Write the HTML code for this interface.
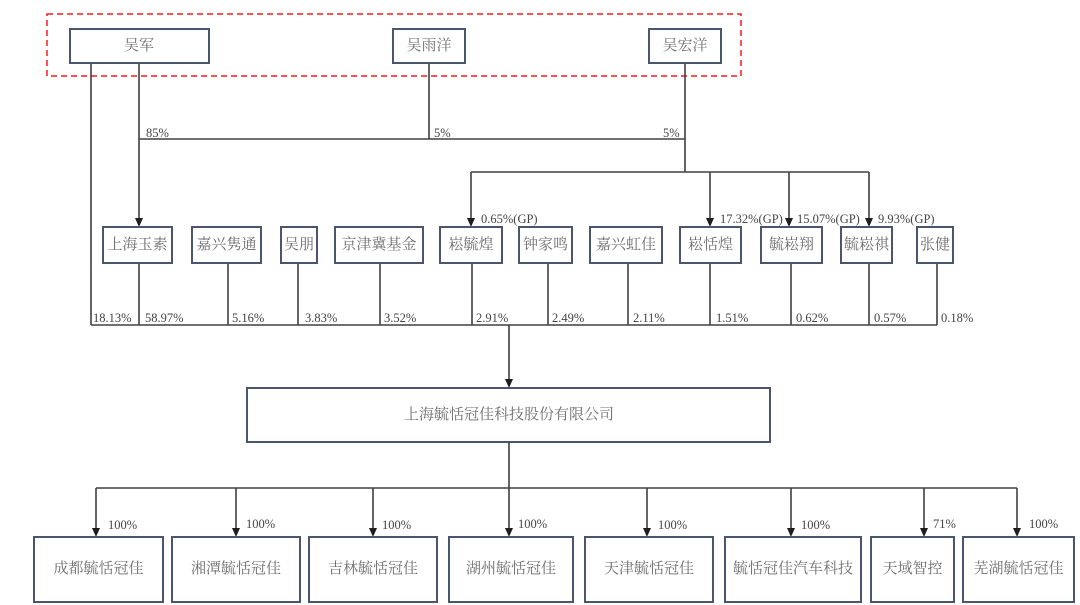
<!DOCTYPE html>
<html>
<head>
<meta charset="utf-8">
<style>
html,body{margin:0;padding:0;background:#fff;}
svg{display:block;}
.box{fill:#fff;stroke:#4a5670;stroke-width:2;}
.ln{stroke:#404040;stroke-width:1.6;fill:none;}
.ah{fill:#1e1e1e;}
.cn{font-family:"Liberation Serif","Noto Serif CJK SC",serif;font-size:15px;fill:#6e6e6e;text-anchor:middle;dominant-baseline:central;}
.pc{font-family:"Liberation Serif",serif;font-size:12.5px;fill:#444;}
</style>
</head>
<body>
<svg width="1080" height="605" viewBox="0 0 1080 605" xmlns="http://www.w3.org/2000/svg">

<!-- dashed red group -->
<rect x="47" y="14" width="694" height="62" fill="none" stroke="#ff1a1a" stroke-width="1.5" stroke-dasharray="6,4"/>

<!-- connectors top -->
<line class="ln" x1="91" y1="63" x2="91" y2="325"/>
<line class="ln" x1="139" y1="63" x2="139" y2="220"/>
<polygon class="ah" points="135,218 143,218 139,227"/>
<line class="ln" x1="139" y1="139" x2="685" y2="139"/>
<line class="ln" x1="429" y1="63" x2="429" y2="139"/>
<line class="ln" x1="685" y1="63" x2="685" y2="172"/>
<line class="ln" x1="471" y1="172" x2="869" y2="172"/>
<line class="ln" x1="471" y1="172" x2="471" y2="220"/>
<polygon class="ah" points="467,218 475,218 471,227"/>
<line class="ln" x1="710" y1="172" x2="710" y2="220"/>
<polygon class="ah" points="706,218 714,218 710,227"/>
<line class="ln" x1="789" y1="172" x2="789" y2="220"/>
<polygon class="ah" points="785,218 793,218 789,227"/>
<line class="ln" x1="869" y1="172" x2="869" y2="220"/>
<polygon class="ah" points="865,218 873,218 869,227"/>

<text class="pc" x="146" y="133" dominant-baseline="central">85%</text>
<text class="pc" x="434" y="133" dominant-baseline="central">5%</text>
<text class="pc" x="663" y="133" dominant-baseline="central">5%</text>

<!-- top boxes -->
<rect class="box" x="70" y="29" width="139" height="34"/>
<text class="cn" x="139" y="46">吴军</text>
<rect class="box" x="393" y="29" width="72" height="34"/>
<text class="cn" x="429" y="46">吴雨洋</text>
<rect class="box" x="649" y="29" width="72" height="34"/>
<text class="cn" x="685" y="46">吴宏洋</text>

<!-- GP labels -->
<text class="pc" x="481" y="219" dominant-baseline="central">0.65%(GP)</text>
<text class="pc" x="720" y="219" dominant-baseline="central">17.32%(GP)</text>
<text class="pc" x="797" y="219" dominant-baseline="central">15.07%(GP)</text>
<text class="pc" x="878" y="219" dominant-baseline="central">9.93%(GP)</text>

<!-- middle lines to bus -->
<line class="ln" x1="139" y1="263" x2="139" y2="325"/>
<line class="ln" x1="228" y1="263" x2="228" y2="325"/>
<line class="ln" x1="298" y1="263" x2="298" y2="325"/>
<line class="ln" x1="380" y1="263" x2="380" y2="325"/>
<line class="ln" x1="472" y1="263" x2="472" y2="325"/>
<line class="ln" x1="548" y1="263" x2="548" y2="325"/>
<line class="ln" x1="628" y1="263" x2="628" y2="325"/>
<line class="ln" x1="710" y1="263" x2="710" y2="325"/>
<line class="ln" x1="791" y1="263" x2="791" y2="325"/>
<line class="ln" x1="869" y1="263" x2="869" y2="325"/>
<line class="ln" x1="937" y1="263" x2="937" y2="325"/>
<line class="ln" x1="91" y1="325" x2="937" y2="325"/>
<line class="ln" x1="509" y1="325" x2="509" y2="381"/>
<polygon class="ah" points="505,379 513,379 509,388"/>

<!-- middle boxes -->
<rect class="box" x="103" y="227" width="69" height="36"/>
<text class="cn" x="137.5" y="245">上海玉素</text>
<rect class="box" x="192" y="227" width="69" height="36"/>
<text class="cn" x="226.5" y="245">嘉兴隽通</text>
<rect class="box" x="281" y="227" width="36" height="36"/>
<text class="cn" x="299" y="245">吴朋</text>
<rect class="box" x="335" y="227" width="88" height="36"/>
<text class="cn" x="379" y="245">京津冀基金</text>
<rect class="box" x="440" y="227" width="62" height="36"/>
<text class="cn" x="471" y="245">崧毓煌</text>
<rect class="box" x="519" y="227" width="53" height="36"/>
<text class="cn" x="545.5" y="245">钟家鸣</text>
<rect class="box" x="590" y="227" width="72" height="36"/>
<text class="cn" x="626" y="245">嘉兴虹佳</text>
<rect class="box" x="680" y="227" width="61" height="36"/>
<text class="cn" x="710.5" y="245">崧恬煌</text>
<rect class="box" x="761" y="227" width="61" height="36"/>
<text class="cn" x="791.5" y="245">毓崧翔</text>
<rect class="box" x="841" y="227" width="51" height="36"/>
<text class="cn" x="866.5" y="245">毓崧祺</text>
<rect class="box" x="917" y="227" width="36" height="36"/>
<text class="cn" x="935" y="245">张健</text>

<!-- bottom percent labels -->
<text class="pc" x="93" y="318" dominant-baseline="central">18.13%</text>
<text class="pc" x="145" y="318" dominant-baseline="central">58.97%</text>
<text class="pc" x="232" y="318" dominant-baseline="central">5.16%</text>
<text class="pc" x="305" y="318" dominant-baseline="central">3.83%</text>
<text class="pc" x="384" y="318" dominant-baseline="central">3.52%</text>
<text class="pc" x="476" y="318" dominant-baseline="central">2.91%</text>
<text class="pc" x="552" y="318" dominant-baseline="central">2.49%</text>
<text class="pc" x="633" y="318" dominant-baseline="central">2.11%</text>
<text class="pc" x="716" y="318" dominant-baseline="central">1.51%</text>
<text class="pc" x="796" y="318" dominant-baseline="central">0.62%</text>
<text class="pc" x="874" y="318" dominant-baseline="central">0.57%</text>
<text class="pc" x="941" y="318" dominant-baseline="central">0.18%</text>

<!-- company -->
<rect class="box" x="247" y="388" width="523" height="54"/>
<text class="cn" x="509" y="415">上海毓恬冠佳科技股份有限公司</text>

<line class="ln" x1="509" y1="442" x2="509" y2="488"/>
<line class="ln" x1="96" y1="488" x2="1017" y2="488"/>
<line class="ln" x1="96" y1="488" x2="96" y2="530"/>
<polygon class="ah" points="92,528 100,528 96,537"/>
<line class="ln" x1="236" y1="488" x2="236" y2="530"/>
<polygon class="ah" points="232,528 240,528 236,537"/>
<line class="ln" x1="373" y1="488" x2="373" y2="530"/>
<polygon class="ah" points="369,528 377,528 373,537"/>
<line class="ln" x1="509" y1="488" x2="509" y2="530"/>
<polygon class="ah" points="505,528 513,528 509,537"/>
<line class="ln" x1="647" y1="488" x2="647" y2="530"/>
<polygon class="ah" points="643,528 651,528 647,537"/>
<line class="ln" x1="791" y1="488" x2="791" y2="530"/>
<polygon class="ah" points="787,528 795,528 791,537"/>
<line class="ln" x1="924" y1="488" x2="924" y2="530"/>
<polygon class="ah" points="920,528 928,528 924,537"/>
<line class="ln" x1="1017" y1="488" x2="1017" y2="530"/>
<polygon class="ah" points="1013,528 1021,528 1017,537"/>

<text class="pc" x="108" y="525" dominant-baseline="central">100%</text>
<text class="pc" x="246" y="524" dominant-baseline="central">100%</text>
<text class="pc" x="382" y="525" dominant-baseline="central">100%</text>
<text class="pc" x="518" y="524" dominant-baseline="central">100%</text>
<text class="pc" x="658" y="525" dominant-baseline="central">100%</text>
<text class="pc" x="801" y="525" dominant-baseline="central">100%</text>
<text class="pc" x="933" y="524" dominant-baseline="central">71%</text>
<text class="pc" x="1029" y="524" dominant-baseline="central">100%</text>

<!-- subsidiary boxes -->
<rect class="box" x="34" y="537" width="129" height="65"/>
<text class="cn" x="98.5" y="569">成都毓恬冠佳</text>
<rect class="box" x="172" y="537" width="128" height="65"/>
<text class="cn" x="236" y="569">湘潭毓恬冠佳</text>
<rect class="box" x="309" y="537" width="128" height="65"/>
<text class="cn" x="373" y="569">吉林毓恬冠佳</text>
<rect class="box" x="449" y="537" width="124" height="65"/>
<text class="cn" x="511" y="569">湖州毓恬冠佳</text>
<rect class="box" x="585" y="537" width="128" height="65"/>
<text class="cn" x="649" y="569">天津毓恬冠佳</text>
<rect class="box" x="725" y="537" width="136" height="65"/>
<text class="cn" x="793" y="569">毓恬冠佳汽车科技</text>
<rect class="box" x="871" y="537" width="83" height="65"/>
<text class="cn" x="912.5" y="569">天域智控</text>
<rect class="box" x="963" y="537" width="111" height="65"/>
<text class="cn" x="1018.5" y="569">芜湖毓恬冠佳</text>
</svg>
</body>
</html>
